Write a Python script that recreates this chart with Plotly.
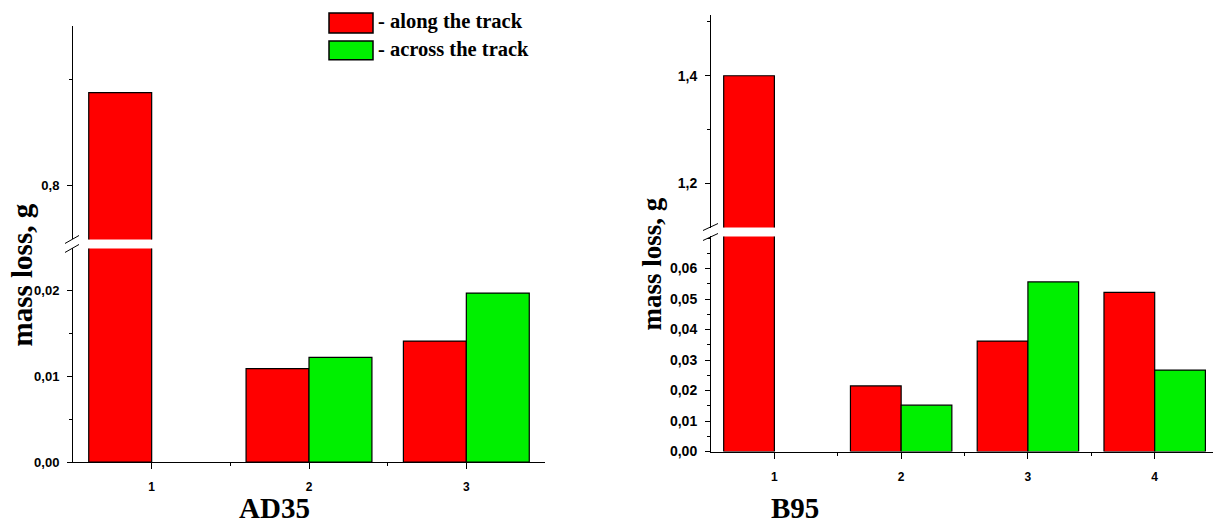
import plotly.graph_objects as go

# ---------------- data ----------------
ad35_cats = [1, 2, 3]
ad35_along = [0.888, 0.0109, 0.0141]
ad35_across = [None, 0.0122, 0.0197]

b95_cats = [1, 2, 3, 4]
b95_along = [1.40, 0.0215, 0.0362, 0.0522]
b95_across = [None, 0.0152, 0.0556, 0.0267]

series_names = ["- along the track", "- across the track"]
panel_titles = ["AD35", "B95"]
y_title = "mass loss, g"

ad35_low_ticks = [0.0, 0.01, 0.02]
ad35_low_minor = [0.005, 0.015]
ad35_up_ticks = [0.8]
ad35_up_minor = [0.9]
b95_low_ticks = [0.0, 0.01, 0.02, 0.03, 0.04, 0.05, 0.06]
b95_low_minor = [0.005, 0.015, 0.025, 0.035, 0.045, 0.055, 0.065, 0.07]
b95_up_ticks = [1.2, 1.4]
b95_up_minor = [1.3, 1.5]

# ---------------- style ----------------
W, H = 1213, 530
KY = 0.987  # observed vertical scale of the captured page
RED = "#FF0000"
GREEN = "#00F000"
SANS = "Liberation Sans"
SERIF = "Liberation Serif"


def tickfont(size):
    return dict(family=SANS, size=size, color="black", weight="bold")


def px(x):
    return x / W


def py(y):
    return 1 - (y / KY) / H


fig = go.Figure()


def add_panel(xa, ylow, yup, cats, along, across):
    for ya in (ylow, yup):
        fig.add_trace(go.Bar(x=cats, y=along, xaxis=xa, yaxis=ya, name=series_names[0],
                             marker=dict(color=RED, line=dict(color="black", width=1.2)),
                             showlegend=False))
        fig.add_trace(go.Bar(x=cats, y=across, xaxis=xa, yaxis=ya, name=series_names[1],
                             marker=dict(color=GREEN, line=dict(color="black", width=1.2)),
                             showlegend=False))


add_panel("x", "y", "y2", ad35_cats, ad35_along, ad35_across)
add_panel("x2", "y3", "y4", b95_cats, b95_along, b95_across)

common_axis = dict(showline=True, linecolor="black", linewidth=1, showgrid=False,
                   zeroline=False, ticks="outside", tickcolor="black", tickwidth=1)


def xaxis(domain, rng, anchor, cats):
    minor_vals = [c + 0.5 for c in cats[:-1]]
    return dict(domain=domain, range=rng, anchor=anchor, tickvals=cats,
                ticklen=6, ticklabelstandoff=8, tickfont=tickfont(12),
                minor=dict(tickvals=minor_vals, ticks="outside", ticklen=3,
                           tickcolor="black", showgrid=False),
                **common_axis)


def yaxis(domain, rng, anchor, ticks, minor, fmt, fsize):
    return dict(domain=domain, range=rng, anchor=anchor, tickvals=ticks,
                tickformat=fmt, ticklen=5, ticklabelstandoff=5, tickfont=tickfont(fsize),
                minor=dict(tickvals=minor, ticks="outside", ticklen=3,
                           tickcolor="black", showgrid=False),
                **common_axis)


fig.update_layout(
    width=W, height=H, autosize=False,
    margin=dict(l=0, r=0, t=0, b=0, pad=0),
    paper_bgcolor="white", plot_bgcolor="white",
    barmode="group", bargap=0.2, bargroupgap=0,
    separators=",.",
    xaxis=xaxis([px(73), px(545)], [0.5, 3.5], "y", ad35_cats),
    xaxis2=xaxis([px(711), 1.0], [0.5, 4.46], "y3", b95_cats),
    yaxis=yaxis([py(463), py(249)], [0, 0.0249], "x", ad35_low_ticks, ad35_low_minor, ".2f", 13),
    yaxis2=yaxis([py(240), py(26)], [0.749, 0.951], "x", ad35_up_ticks, ad35_up_minor, ".1f", 13),
    yaxis3=yaxis([py(452.5), py(237)], [0, 0.0705], "x2", b95_low_ticks, b95_low_minor, ".2f", 14),
    yaxis4=yaxis([py(228), py(15)], [1.118, 1.513], "x2", b95_up_ticks, b95_up_minor, ".1f", 14),
)

annotations = [
    dict(text=y_title, x=px(22), y=py(276), textangle=-90,
         font=dict(family=SERIF, size=29, color="black", weight="bold")),
    dict(text=y_title, x=px(652), y=py(265), textangle=-90,
         font=dict(family=SERIF, size=27, color="black", weight="bold")),
    dict(text=panel_titles[0], x=px(274), y=py(509),
         font=dict(family=SERIF, size=29, color="black", weight="bold")),
    dict(text=panel_titles[1], x=px(795), y=py(509),
         font=dict(family=SERIF, size=29, color="black", weight="bold")),
    dict(text=series_names[0], x=px(376), y=py(22), xanchor="left",
         font=dict(family=SERIF, size=20.5, color="black", weight="bold")),
    dict(text=series_names[1], x=px(376), y=py(49), xanchor="left",
         font=dict(family=SERIF, size=20.5, color="black", weight="bold")),
]
for a in annotations:
    a.update(xref="paper", yref="paper", showarrow=False)
    a.setdefault("xanchor", "center")
    a.setdefault("yanchor", "middle")
fig.update_layout(annotations=annotations)

shapes = [
    # legend swatches
    dict(type="rect", x0=px(329), x1=px(373), y0=py(33), y1=py(13),
         fillcolor=RED, line=dict(color="black", width=1.5)),
    dict(type="rect", x0=px(329), x1=px(373), y0=py(60), y1=py(41),
         fillcolor=GREEN, line=dict(color="black", width=1.5)),
    # axis break marks
    dict(type="line", x0=px(65), x1=px(79), y0=py(244), y1=py(236), line=dict(color="black", width=1)),
    dict(type="line", x0=px(65), x1=px(79), y0=py(253), y1=py(245), line=dict(color="black", width=1)),
    dict(type="line", x0=px(703), x1=px(718), y0=py(231), y1=py(224), line=dict(color="black", width=1)),
    dict(type="line", x0=px(703), x1=px(718), y0=py(241), y1=py(234), line=dict(color="black", width=1)),
]
for s in shapes:
    s.update(xref="paper", yref="paper")
fig.update_layout(shapes=shapes)

post = (
    "document.documentElement.style.margin='0';"
    "document.documentElement.style.overflow='hidden';"
    "document.body.style.margin='0';"
    "document.body.style.overflow='hidden';"
)

fig.write_html("out.html", config={"displayModeBar": False}, post_script=post)
